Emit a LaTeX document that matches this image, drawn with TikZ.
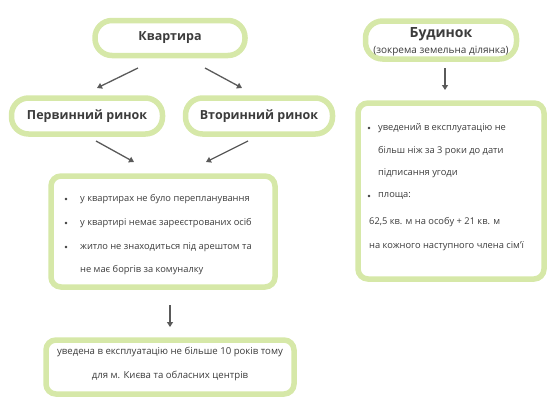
\documentclass[tikz,border=0pt]{standalone}
\usepackage{fontspec}
\setmainfont{Open Sans}
\usetikzlibrary{arrows.meta}
\definecolor{boxgreen}{RGB}{214,232,168}
\definecolor{txt}{RGB}{60,60,60}
\definecolor{arr}{RGB}{90,90,90}
\tikzset{
  pill/.style={draw=boxgreen, line width=5.5pt, fill=white, rounded corners=17pt, inner sep=0pt, text=txt, font=\bfseries\fontsize{12.5}{15}\selectfont},
  panel/.style={draw=boxgreen, line width=5.5pt, fill=white, rounded corners=10pt, inner sep=0pt},
  item/.style={anchor=west, inner sep=0pt, text=txt, font=\fontsize{9.3}{11}\selectfont},
  ctext/.style={anchor=center, inner sep=0pt, text=txt, font=\fontsize{9.6}{11}\selectfont},
  dot/.style={circle, fill=txt, inner sep=0pt, minimum size=2.8pt},
  conn/.style={draw=arr, line width=1.3pt, -{Triangle[length=5pt,width=6pt]}}
}
\begin{document}
\begin{tikzpicture}[x=1pt,y=-1pt]
\useasboundingbox (0,0) rectangle (560,410);
% title pills
\node[pill, minimum width=150pt, minimum height=35pt] (kv) at (170,38) {Квартира};
\node[pill, minimum width=151pt, minimum height=36pt] (perv) at (87,116) {Первинний ринок};
\node[pill, minimum width=147pt, minimum height=36pt] (vtor) at (259,116) {Вторинний ринок};
\node[pill, minimum width=151pt, minimum height=38pt] (bud) at (441,40) {};
\node[inner sep=0pt, text=txt, font=\bfseries\fontsize{14}{16}\selectfont] (budt) at (441,34) {Будинок};
\node[inner sep=0pt, text=txt, font=\fontsize{10}{12}\selectfont] (buds) at (441,51) {(зокрема земельна ділянка)};
% panels
\node[panel, minimum width=224pt, minimum height=111pt] (list) at (163,231.5) {};
\node[panel, minimum width=186pt, minimum height=176pt] (right) at (451,191) {};
\node[panel, minimum width=248pt, minimum height=54pt] (bot) at (170,367) {};
% left list
\node[dot] (d1) at (66,199) {};
\node[item] (l1) at (80,199) {у квартирах не було перепланування};
\node[dot] (d2) at (66,223) {};
\node[item] (l2) at (80,223) {у квартирі немає зареєстрованих осіб};
\node[dot] (d3) at (66,247) {};
\node[item] (l3) at (80,247) {житло не знаходиться під арештом та};
\node[item] (l4) at (80,270) {не має боргів за комуналку};
% right list
\node[dot] (r0) at (369,128) {};
\node[item] (r1) at (378,128) {уведений в експлуатацію не};
\node[item] (r2) at (378,151) {більш ніж за 3 роки до дати};
\node[item] (r3) at (378,173) {підписання угоди};
\node[dot] (r4d) at (369,196) {};
\node[item] (r4) at (378,196) {площа:};
\node[item] (r5) at (369,222) {62,5 кв. м на особу + 21 кв. м};
\node[item] (r6) at (369,246) {на кожного наступного члена сім'ї};
% bottom text
\node[ctext] (b1) at (170,352) {уведена в експлуатацію не більше 10 років тому};
\node[ctext] (b2) at (170,376) {для м. Києва та обласних центрів};
% arrow end points
\coordinate (a1s) at (138,68); \coordinate (a1e) at (97,88);
\coordinate (a2s) at (205,68); \coordinate (a2e) at (242,88);
\coordinate (a3s) at (96,141); \coordinate (a3e) at (134,162);
\coordinate (a4s) at (248,141); \coordinate (a4e) at (206,162);
\coordinate (a5s) at (170,305); \coordinate (a5e) at (170,327);
\coordinate (a6s) at (445,68); \coordinate (a6e) at (445,90);
\draw[conn] (a1s) -- (a1e);
\draw[conn] (a2s) -- (a2e);
\draw[conn] (a3s) -- (a3e);
\draw[conn] (a4s) -- (a4e);
\draw[conn] (a5s) -- (a5e);
\draw[conn] (a6s) -- (a6e);
\end{tikzpicture}
\end{document}
